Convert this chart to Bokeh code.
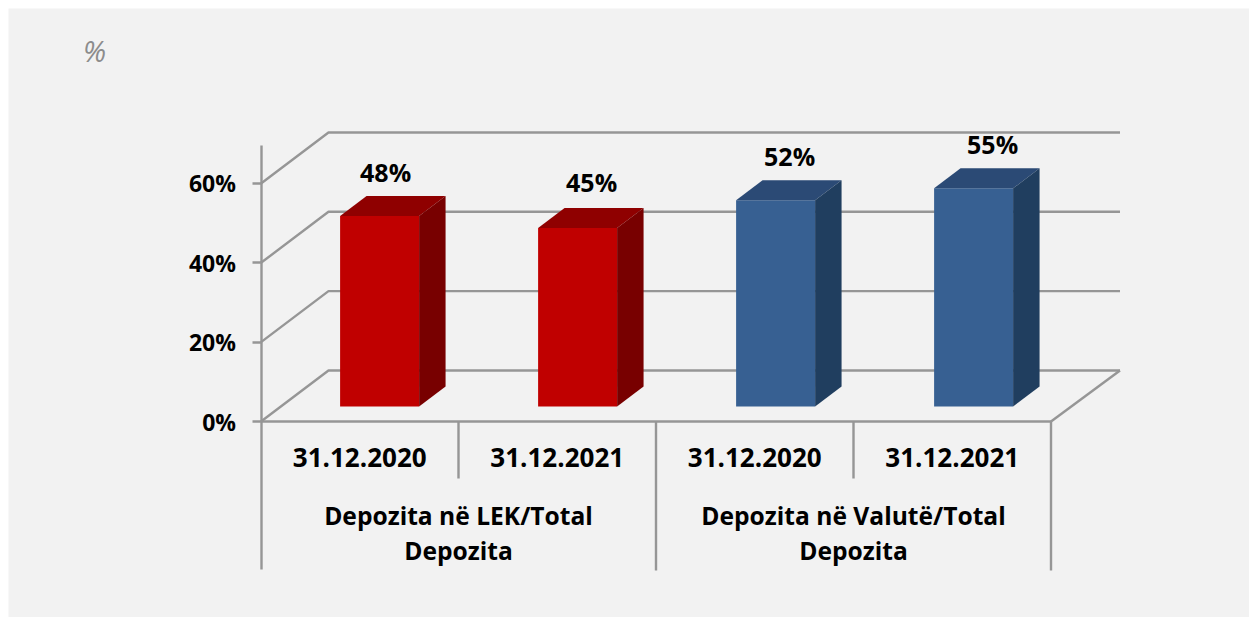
from bokeh.plotting import figure
from bokeh.models import LinearAxis, FixedTicker, Range1d
from bokeh.core.properties import value
from bokeh.embed import file_html
from bokeh.resources import INLINE

# ---- data ----
dates = ["31.12.2020", "31.12.2021", "31.12.2020", "31.12.2021"]
values = [48, 45, 52, 55]
labels = ["48%", "45%", "52%", "55%"]
groups = [["Depozita në LEK/Total", "Depozita"], ["Depozita në Valutë/Total", "Depozita"]]
y_ticks = [0, 20, 40, 60]

# ---- layout ----
W, H = 1241, 609
X0, Y0 = 252.5, 413        # pixel of (0, 0) inside the figure
PX_X, PX_Y = 197.5, 3.967  # pixels per category / per percent
DX, DY = 67.5 / PX_X, 51 / PX_Y
DX_RIGHT = 69 / PX_X
FONT = "Open Sans"
FS = "25px"
GRID = "#969696"
LW = 2.4
FRONT = ["#C00000", "#C00000", "#376092", "#376092"]
TOP = ["#8F0000", "#8F0000", "#2B4A75", "#2B4A75"]
SIDE = ["#780000", "#780000", "#203E5F", "#203E5F"]
BAR_W = 79 / PX_X
D_NEAR, D_FAR = 15 / 51, 35 / 51
BAR_SHIFT = 0.5 / PX_X
LABEL_DX = [6, 14, 14, 19]
LABEL_DY = [24, 26, 24, 24]

p = figure(width=W, height=H, output_backend="svg", toolbar_location=None,
           x_range=Range1d(-X0 / PX_X, (W - X0) / PX_X),
           y_range=Range1d(-(H - Y0) / PX_Y, Y0 / PX_Y),
           min_border=0, min_border_left=0, min_border_right=0,
           min_border_top=0, min_border_bottom=0, x_axis_type=None, y_axis_type=None,
           margin=(8, 0, 0, 8),
           background_fill_color="#F2F2F2", border_fill_color="#F2F2F2", outline_line_color=None)
p.grid.visible = False

# back wall and side wall lines
for v in y_ticks:
    p.line([0, DX, 4 + DX_RIGHT], [v, v + DY, v + DY], line_color=GRID, line_width=LW)
p.line([4, 4 + DX_RIGHT], [0, DY], line_color=GRID, line_width=LW)

# bars
for i, v in enumerate(values):
    cx = i + 0.5 + D_NEAR * DX + i * BAR_SHIFT
    l, r = cx - BAR_W / 2, cx + BAR_W / 2
    b = D_NEAR * DY
    t = b + v
    d = (D_FAR - D_NEAR)
    ox, oy = d * DX, d * DY
    p.quad(left=l, right=r, bottom=b, top=t, fill_color=FRONT[i], line_color=None)
    p.patch([l, r, r + ox, l + ox], [t, t, t + oy, t + oy], fill_color=TOP[i], line_color=None)
    p.patch([r, r + ox, r + ox, r], [b, b + oy, t + oy, t], fill_color=SIDE[i], line_color=None)
    p.text([cx + LABEL_DX[i] / PX_X], [t + oy + LABEL_DY[i] / PX_Y], text=[labels[i]],
           text_font=value(FONT), text_font_style="bold", text_font_size=FS, text_color="black",
           text_align="center", text_baseline="middle")

# axes
yax = LinearAxis(fixed_location=0, ticker=FixedTicker(ticks=y_ticks), bounds=(-37.3, 69.6),
                 major_label_overrides={v: f"{v}%" for v in y_ticks})
yax.axis_line_color = GRID
yax.axis_line_width = LW
yax.major_tick_line_color = GRID
yax.major_tick_line_width = LW
yax.major_tick_out = 9
yax.major_tick_in = 0
yax.minor_tick_line_color = None
yax.major_label_text_font = FONT
yax.major_label_text_font_style = "bold"
yax.major_label_text_font_size = "23px"
yax.major_label_text_color = "black"
yax.major_label_standoff = 16
p.add_layout(yax, "left")

xt = [i + 0.5 for i in range(4)]
xax = LinearAxis(fixed_location=0, ticker=FixedTicker(ticks=xt), bounds=(0, 4),
                 major_label_overrides={t: d for t, d in zip(xt, dates)})
xax.axis_line_color = GRID
xax.axis_line_width = LW
xax.major_tick_line_color = None
xax.minor_tick_line_color = None
xax.major_tick_out = 0
xax.major_tick_in = 0
xax.major_label_text_font = FONT
xax.major_label_text_font_style = "bold"
xax.major_label_text_font_size = "26px"
xax.major_label_text_color = "black"
xax.major_label_standoff = 26
p.add_layout(xax, "below")

# separators
p.segment([1, 3], [0, 0], [1, 3], [-57 / PX_Y, -57 / PX_Y], line_color=GRID, line_width=LW)
p.segment([2, 4], [0, 0], [2, 4], [-149 / PX_Y, -149 / PX_Y], line_color=GRID, line_width=LW)

# group labels
for gx, lines in zip([1, 3], groups):
    for j, line in enumerate(lines):
        p.text([gx], [-(94 + 35 * j) / PX_Y], text=[line], text_font=value(FONT),
               text_font_style="bold", text_font_size="24.6px", text_color="black",
               text_align="center", text_baseline="middle")

# unit
p.text([(83 - 261) / PX_X], [(421 - 50) / PX_Y], text=["%"], text_font=value("Open Sans"),
       text_font_style="italic", text_font_size="29px", text_color="#8C8C8C",
       text_align="left", text_baseline="middle")

open("out.html", "w").write(file_html(p, INLINE))
